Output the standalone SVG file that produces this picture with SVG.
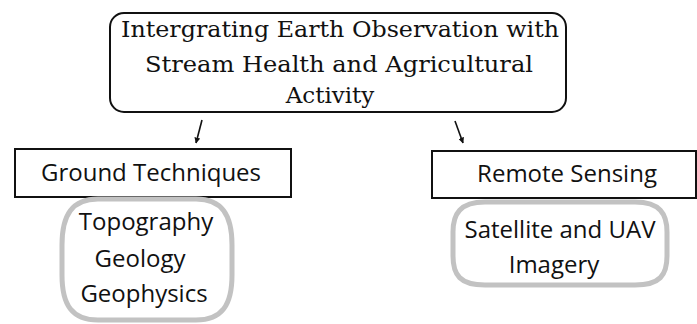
<svg xmlns="http://www.w3.org/2000/svg" width="697" height="324" viewBox="0 0 697 324">
  <style>
    .title { font-family: "DejaVu Serif", "Liberation Serif", serif; font-size: 23px; fill: #111; text-anchor: middle; }
    .label { font-family: "Open Sans", "Liberation Sans", sans-serif; font-size: 24px; fill: #111; text-anchor: middle; }
    .box { fill: #fff; stroke: #111; stroke-width: 2; }
    .pill { fill: #fff; stroke: #c2c2c2; stroke-width: 5; }
    .conn { stroke: #111; stroke-width: 1.6; fill: none; marker-end: url(#head); }
  </style>
  <defs>
    <marker id="head" viewBox="0 0 10 10" refX="9" refY="5" markerWidth="6" markerHeight="6" orient="auto" markerUnits="userSpaceOnUse">
      <path d="M0,0 L10,5 L0,10 z" fill="#111"/>
    </marker>
  </defs>

  <rect width="697" height="324" fill="#fff"/>

  <g id="main-topic">
    <rect class="box" x="110" y="13" width="456" height="99" rx="14" ry="14"/>
    <text class="title" x="340" y="37" textLength="438" lengthAdjust="spacingAndGlyphs">Intergrating Earth Observation with</text>
    <text class="title" x="339" y="72" textLength="388" lengthAdjust="spacingAndGlyphs">Stream Health and Agricultural</text>
    <text class="title" x="330" y="103">Activity</text>
  </g>

  <g id="connectors">
    <line class="conn" x1="202" y1="120" x2="196" y2="143"/>
    <line class="conn" x1="455" y1="121" x2="463" y2="143"/>
  </g>

  <g id="ground-techniques">
    <rect class="box" x="15" y="149" width="276" height="48"/>
    <text class="label" x="151" y="181">Ground Techniques</text>
  </g>

  <g id="remote-sensing">
    <rect class="box" x="432" y="151" width="264" height="47"/>
    <text class="label" x="567" y="182">Remote Sensing</text>
  </g>

  <g id="ground-methods">
    <path class="pill" d="M98,199 L196,199 C222,199 232,215 232,245 L232,275 C232,305 222,320 196,320 L98,320 C72,320 62,305 62,275 L62,245 C62,215 72,199 98,199 Z"/>
    <text class="label" x="146" y="230">Topography</text>
    <text class="label" x="140" y="267">Geology</text>
    <text class="label" x="144" y="302">Geophysics</text>
  </g>

  <g id="remote-methods">
    <path class="pill" d="M485,202 L635,202 C660,202 667,214 667,232 L667,256 C667,275 660,285 635,285 L485,285 C460,285 453,275 453,256 L453,232 C453,214 460,202 485,202 Z"/>
    <text class="label" x="560" y="238">Satellite and UAV</text>
    <text class="label" x="554" y="273">Imagery</text>
  </g>
</svg>
